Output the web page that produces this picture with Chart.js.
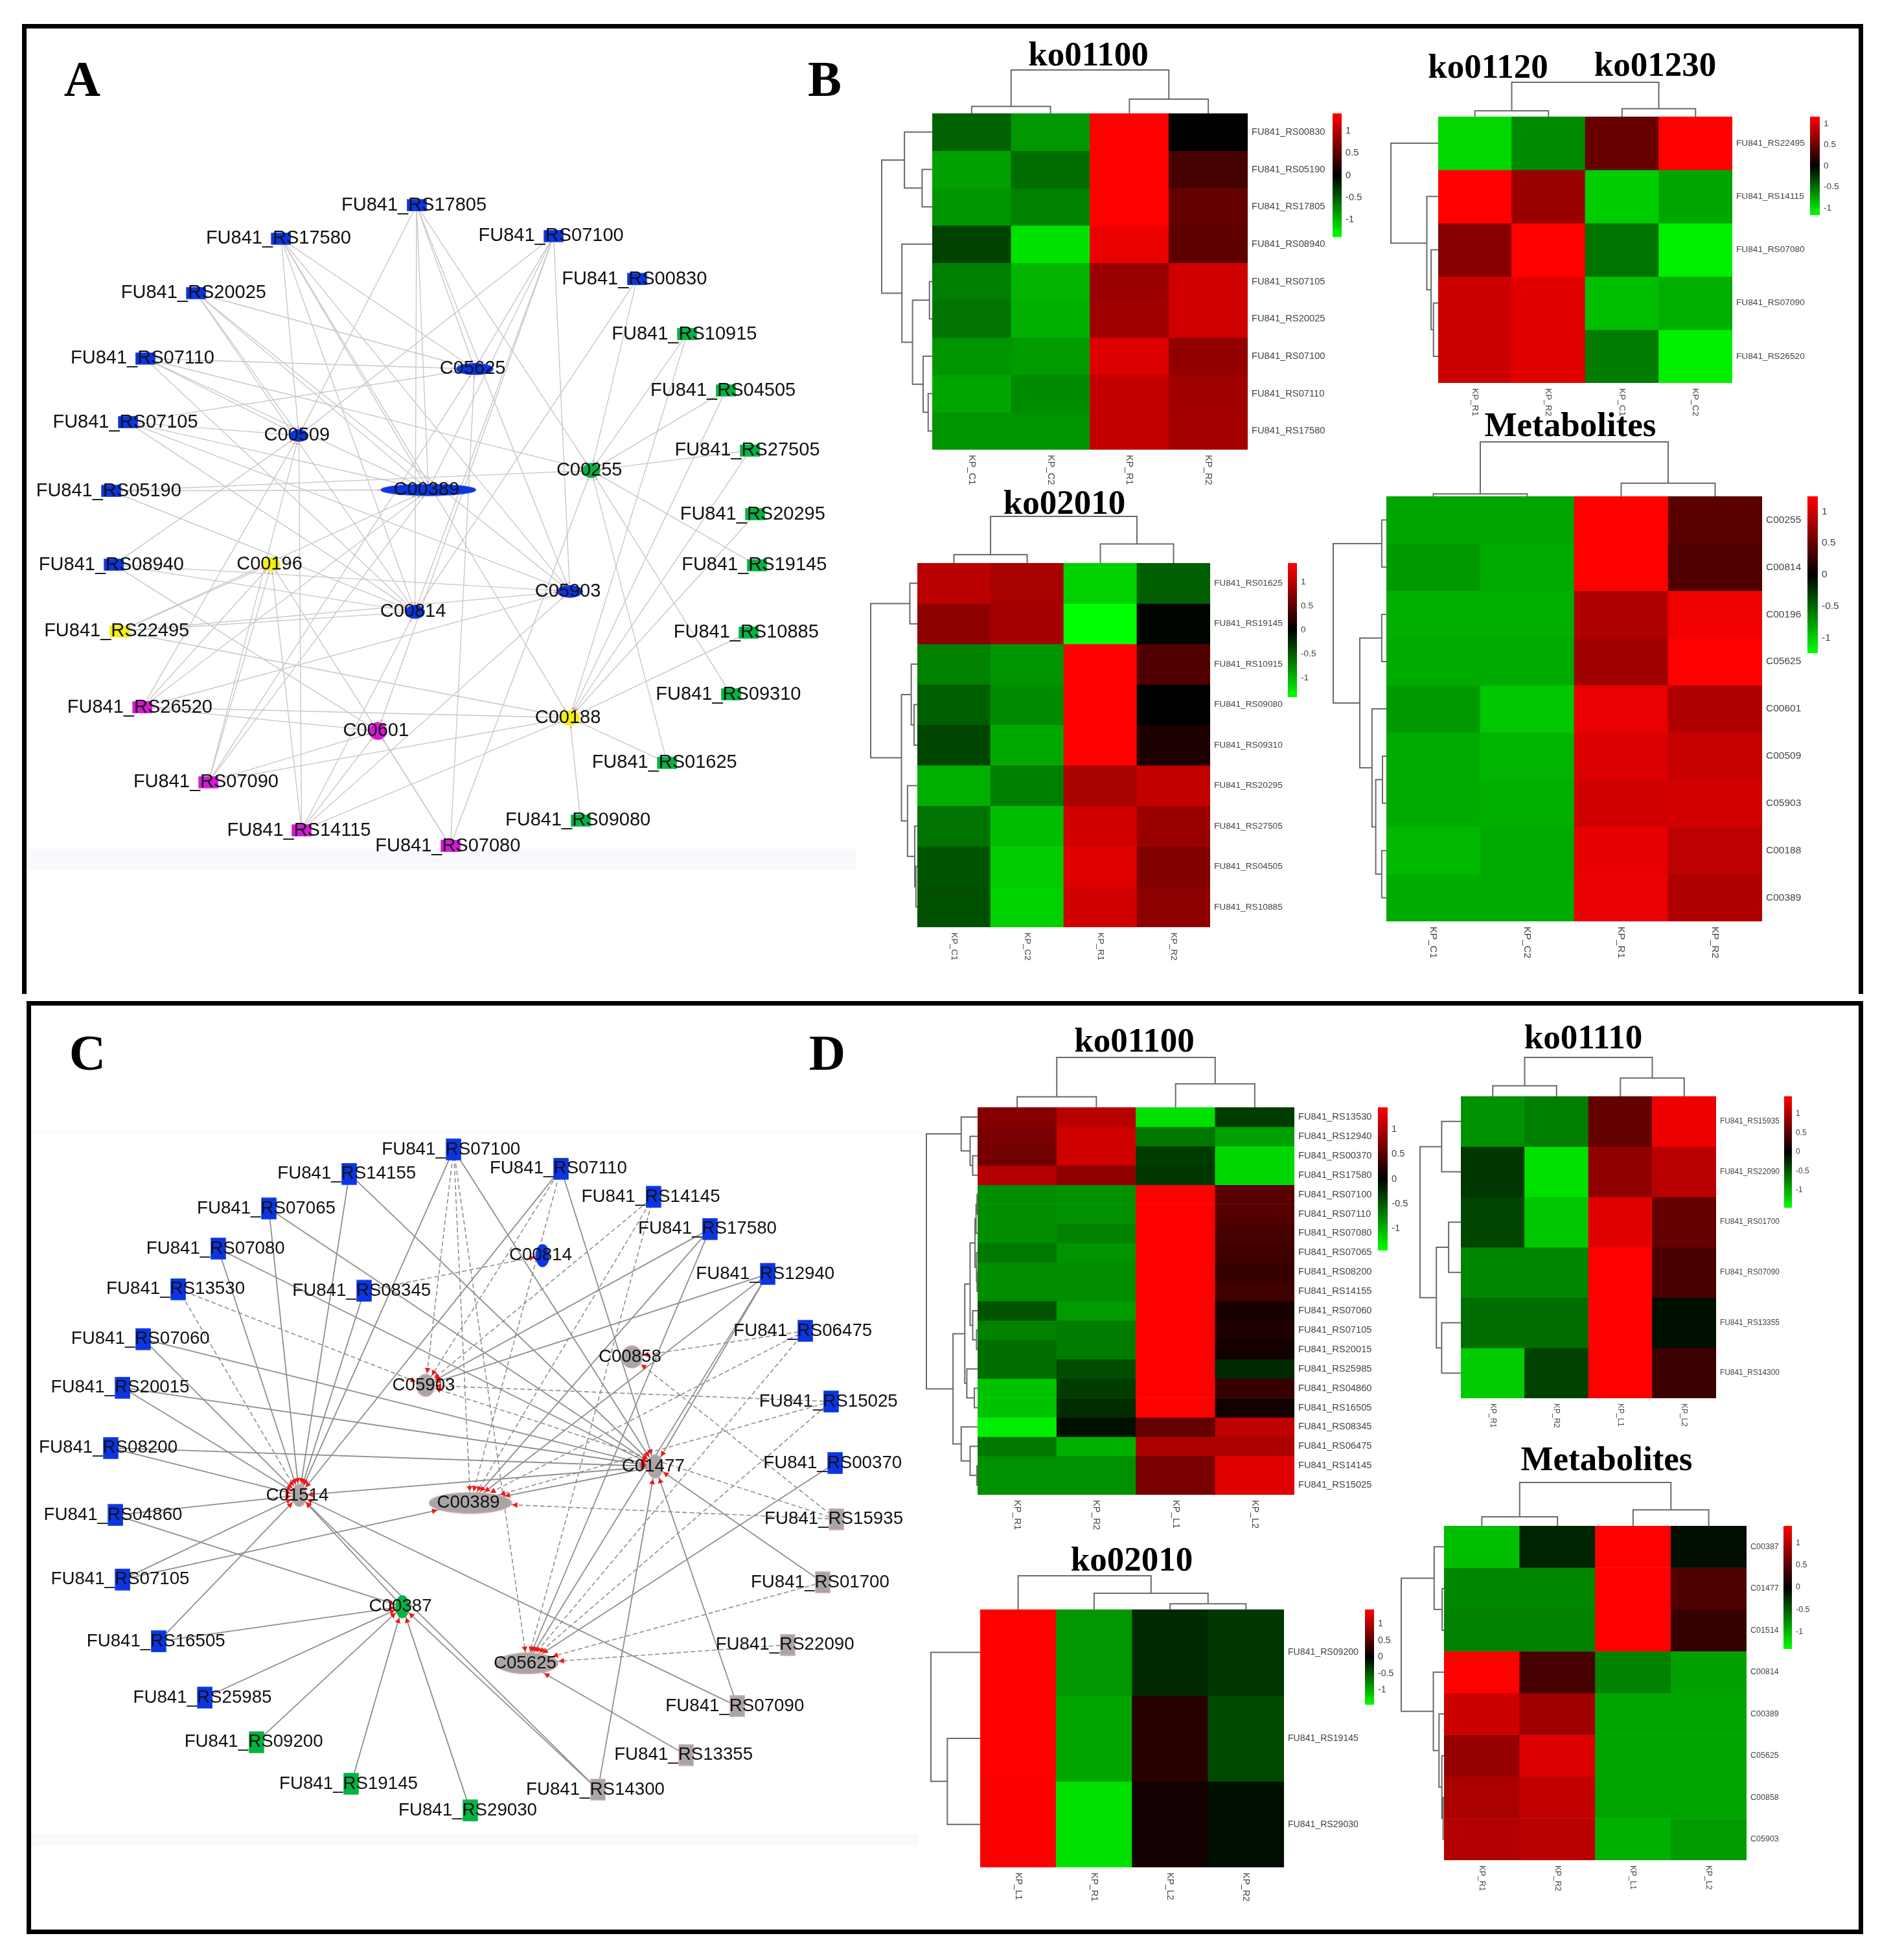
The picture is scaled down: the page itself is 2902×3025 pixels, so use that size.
<!DOCTYPE html>
<html lang="en">
<head>
  <meta charset="UTF-8" />
  <title>Gene and metabolite networks with heatmaps</title>
  <script src="https://cdn.jsdelivr.net/npm/chart.js"></script>
  <style>
    html, body { margin: 0; padding: 0; background: #fff; }
    #page { position: relative; width: 2902px; height: 3025px; overflow: hidden; background: #fff; }
    canvas { position: absolute; }
    .panel { position: absolute; box-sizing: border-box; border: 7px solid #000; }
    .band { position: absolute; background: #f8f9fd; }
    .title, .letter { position: absolute; font-family: 'Liberation Serif', serif; font-weight: bold; color: #000;
      transform: translate(-50%, -50%); white-space: nowrap; line-height: 1; }
    .title { font-size: 53px; }
    .letter { font-size: 78px; }
  </style>
</head>
<body>
<div id="page">
  <div class="panel" style="left:34px;top:37px;width:2842px;height:1497px;border-bottom:none"></div>
  <div class="panel" style="left:41px;top:1545px;width:2835px;height:1440px"></div>
  <div class="band" style="left:41px;top:1310px;width:1280px;height:33px"></div>
  <div class="band" style="left:48px;top:2830px;width:1370px;height:18px"></div>
  <div class="band" style="left:48px;top:1746px;width:1375px;height:2px"></div>

  <div class="letter" style="left:127px;top:122px">A</div>
  <div class="letter" style="left:1273px;top:122px">B</div>
  <div class="letter" style="left:135px;top:1625px">C</div>
  <div class="letter" style="left:1277px;top:1625px">D</div>

  <div class="title" style="left:1680px;top:83px">ko01100</div>
  <div class="title" style="left:2297px;top:102px">ko01120</div>
  <div class="title" style="left:2555px;top:99px">ko01230</div>
  <div class="title" style="left:2424px;top:655px">Metabolites</div>
  <div class="title" style="left:1643px;top:775px">ko02010</div>
  <div class="title" style="left:1751px;top:1605px">ko01100</div>
  <div class="title" style="left:2444px;top:1600px">ko01110</div>
  <div class="title" style="left:1747px;top:2406px">ko02010</div>
  <div class="title" style="left:2480px;top:2251px">Metabolites</div>
</div>

<script>
// ---- heatmap data (row z-scores) ----
const bCols1 = ['KP_C1', 'KP_C2', 'KP_R1', 'KP_R2'];
const bRows1 = ['FU841_RS00830', 'FU841_RS05190', 'FU841_RS17805', 'FU841_RS08940', 'FU841_RS07105', 'FU841_RS20025', 'FU841_RS07100', 'FU841_RS07110', 'FU841_RS17580'];
const bVals1 = [
  [-0.53, -0.83, 1.4, 0],
  [-0.88, -0.6, 1.4, 0.38],
  [-0.82, -0.71, 1.4, 0.55],
  [-0.36, -1.24, 1.29, 0.52],
  [-0.69, -0.99, 0.85, 1.15],
  [-0.63, -0.96, 0.88, 1.15],
  [-0.82, -0.85, 1.21, 0.8],
  [-0.91, -0.77, 1.07, 0.88],
  [-0.82, -0.82, 1.07, 0.9]
];
const bColTree1 = [[0, 1, 0.16], [2, 3, 0.33], 1];
const bRowTree1 = [[0, [1, 2, 0.2], 0.55], [3, [[4, 5, 0.055], [6, [7, 8, 0.08], 0.18], 0.39], 0.6], 1];

const bCols2 = ['KP_R1', 'KP_R2', 'KP_C1', 'KP_C2'];
const bRows2 = ['FU841_RS22495', 'FU841_RS14115', 'FU841_RS07080', 'FU841_RS07090', 'FU841_RS26520'];
const bVals2 = [
  [-0.99, -0.64, 0.48, 1.17],
  [1.17, 0.71, -0.94, -0.76],
  [0.62, 1.17, -0.53, -1.1],
  [0.94, 1.03, -0.87, -0.8],
  [0.94, 1.03, -0.57, -1.1]
];
const bColTree2 = [[0, 1, 0.17], [2, 3, 0.23], 1];
const bRowTree2 = [0, [1, [2, [3, 4, 0.1], 0.15], 0.24], 1];

const bCols3 = ['KP_C1', 'KP_C2', 'KP_R1', 'KP_R2'];
const bRows3 = ['FU841_RS01625', 'FU841_RS19145', 'FU841_RS10915', 'FU841_RS09080', 'FU841_RS09310', 'FU841_RS20295', 'FU841_RS27505', 'FU841_RS04505', 'FU841_RS10885'];
const bVals3 = [
  [1.02, 0.93, -1.15, -0.52],
  [0.77, 0.91, -1.4, -0.03],
  [-0.71, -0.82, 1.4, 0.44],
  [-0.52, -0.77, 1.4, 0],
  [-0.38, -0.93, 1.4, 0.16],
  [-0.96, -0.69, 0.93, 1.07],
  [-0.63, -1.04, 1.15, 0.85],
  [-0.47, -1.12, 1.23, 0.71],
  [-0.44, -1.15, 1.15, 0.77]
];
const bColTree3 = [[0, 1, 0.18], [2, 3, 0.41], 1];
const bRowTree3 = [[0, 1, 0.16], [[2, [3, 4, 0.07], 0.13], [5, [6, [7, 8, 0.03], 0.056], 0.21], 0.34], 1];

const bCols4 = ['KP_C1', 'KP_C2', 'KP_R1', 'KP_R2'];
const bRows4 = ['C00255', 'C00814', 'C00196', 'C05625', 'C00601', 'C00509', 'C05903', 'C00188', 'C00389'];
const bVals4 = [
  [-0.8, -0.8, 1.24, 0.44],
  [-0.75, -0.83, 1.24, 0.39],
  [-0.85, -0.85, 0.85, 1.17],
  [-0.83, -0.83, 0.78, 1.24],
  [-0.75, -0.97, 1.14, 0.85],
  [-0.83, -0.88, 1.07, 0.97],
  [-0.83, -0.85, 1.0, 1.02],
  [-0.9, -0.83, 1.12, 0.92],
  [-0.83, -0.83, 1.14, 0.85]
];
const bColTree4 = [[0, 1, 0.045], [2, 3, 0.24], 1];
const bRowTree4 = [[0, 1, 0.087], [[2, 3, 0.087], [4, [[5, 6, 0.073], [7, 8, 0.087], 0.2], 0.27], 0.5], 1];

const dCols1 = ['KP_R1', 'KP_R2', 'KP_L1', 'KP_L2'];
const dRows1 = ['FU841_RS13530', 'FU841_RS12940', 'FU841_RS00370', 'FU841_RS17580', 'FU841_RS07100', 'FU841_RS07110', 'FU841_RS07080', 'FU841_RS07065', 'FU841_RS08200', 'FU841_RS14155', 'FU841_RS07060', 'FU841_RS07105', 'FU841_RS20015', 'FU841_RS25985', 'FU841_RS04860', 'FU841_RS16505', 'FU841_RS08345', 'FU841_RS06475', 'FU841_RS14145', 'FU841_RS15025'];
const dVals1 = [
  [0.77, 1.05, -1.28, -0.34],
  [0.68, 1.17, -0.68, -0.91],
  [0.65, 1.17, -0.34, -1.22],
  [1.02, 0.82, -0.31, -1.22],
  [-0.8, -0.82, 1.45, 0.51],
  [-0.8, -0.82, 1.45, 0.48],
  [-0.8, -0.74, 1.45, 0.4],
  [-0.68, -0.85, 1.45, 0.37],
  [-0.8, -0.8, 1.45, 0.31],
  [-0.8, -0.8, 1.45, 0.37],
  [-0.48, -0.88, 1.45, 0.14],
  [-0.74, -0.71, 1.45, 0.17],
  [-0.63, -0.71, 1.45, 0.11],
  [-0.63, -0.43, 1.45, -0.23],
  [-1.11, -0.34, 1.45, 0.31],
  [-1.11, -0.26, 1.45, 0.11],
  [-1.36, -0.09, 0.57, 1.08],
  [-0.68, -1.0, 0.97, 0.97],
  [-0.82, -0.82, 0.68, 1.28],
  [-0.82, -0.82, 0.68, 1.28]
];
const dColTree1 = [[0, 1, 0.21], [2, 3, 0.47], 1];
const dRowTree1 = [[0, [1, [2, 3, 0.095], 0.146], 0.32],
  [[[[[[4, 5, 0.01], 6, 0.03], [7, [8, 9, 0.01], 0.02], 0.05], [10, [11, 12, 0.02], 0.095], 0.146], [13, [14, 15, 0.063], 0.21], 0.25],
    [16, [17, [18, 19, 0.013], 0.146], 0.32], 0.48], 1];

const dCols2 = ['KP_R1', 'KP_R2', 'KP_L1', 'KP_L2'];
const dRows2 = ['FU841_RS15935', 'FU841_RS22090', 'FU841_RS01700', 'FU841_RS07090', 'FU841_RS13355', 'FU841_RS14300'];
const dVals2 = [
  [-0.83, -0.72, 0.57, 1.37],
  [-0.31, -1.29, 0.83, 1.06],
  [-0.4, -1.14, 1.29, 0.57],
  [-0.77, -0.77, 1.46, 0.43],
  [-0.63, -0.63, 1.46, -0.09],
  [-1.17, -0.37, 1.46, 0.34]
];
const dColTree2 = [[0, 1, 0.27], [2, 3, 0.47], 1];
const dRowTree2 = [[0, 1, 0.47], [[2, 3, 0.3], [4, 5, 0.47], 0.6], 1];

const dCols3 = ['KP_L1', 'KP_R1', 'KP_L2', 'KP_R2'];
const dRows3 = ['FU841_RS09200', 'FU841_RS19145', 'FU841_RS29030'];
const dVals3 = [
  [1.44, -0.85, -0.23, -0.31],
  [1.44, -0.93, 0.23, -0.42],
  [1.41, -1.27, 0.11, -0.08]
];
const dColTree3 = [0, [1, [2, 3, 0.17], 0.48], 1];
const dRowTree3 = [0, [1, 2, 0.667], 1];

const dCols4 = ['KP_R1', 'KP_R2', 'KP_L1', 'KP_L2'];
const dRows4 = ['C00387', 'C01477', 'C01514', 'C00814', 'C00389', 'C05625', 'C00858', 'C05903'];
const dVals4 = [
  [-1.03, -0.19, 1.38, -0.08],
  [-0.73, -0.73, 1.38, 0.43],
  [-0.7, -0.7, 1.38, 0.3],
  [1.38, 0.38, -0.7, -0.87],
  [1.11, 0.87, -0.89, -0.89],
  [0.81, 1.19, -0.89, -0.89],
  [0.92, 1.05, -0.89, -0.89],
  [0.97, 1.0, -0.95, -0.84]
];
const dColTree4 = [[0, 1, 0.21], [2, 3, 0.37], 1];
const dRowTree4 = [[0, [1, 2, 0.044], 0.23], [3, [4, [5, [6, 7, 0.02], 0.05], 0.117], 0.25], 1];

const legendTicks = [1, 0.5, 0, -0.5, -1];

// ---- network data, in the layout units of each panel ----
const netAMets = [['C05625', 883, 642], ['C00509', 556, 762], ['C00389', 797, 860], ['C00255', 1100, 825], ['C00196', 505, 994], ['C05903', 1060, 1043], ['C00814', 772, 1080], ['C00188', 1060, 1271], ['C00601', 703, 1295]];
const netAGenes = [
  ['RS17805', 775, 347, 'blue'], ['RS17580', 523, 407, 'blue'], ['RS07100', 1030, 402, 'blue'], ['RS00830', 1185, 480, 'blue'], ['RS20025', 365, 505, 'blue'],
  ['RS07110', 270, 623, 'blue'], ['RS07105', 238, 738, 'blue'], ['RS05190', 207, 862, 'blue'], ['RS08940', 212, 995, 'blue'],
  ['RS10915', 1278, 579, 'green'], ['RS04505', 1350, 681, 'green'], ['RS27505', 1395, 789, 'green'], ['RS20295', 1405, 904, 'green'], ['RS19145', 1408, 996, 'green'],
  ['RS10885', 1393, 1117, 'green'], ['RS09310', 1360, 1229, 'green'], ['RS01625', 1241, 1352, 'green'], ['RS09080', 1080, 1456, 'green'],
  ['RS22495', 222, 1115, 'yellow'],
  ['RS26520', 265, 1252, 'magenta'], ['RS07090', 388, 1387, 'magenta'], ['RS14115', 561, 1474, 'magenta'], ['RS07080', 838, 1502, 'magenta']
];
const netALinks = [
  ['RS17805', 'C00509', 'C00814', 'C00389', 'C05625', 'C00255', 'C05903'],
  ['RS17580', 'C00509', 'C05625', 'C00389', 'C05903', 'C00814', 'C00188'],
  ['RS07100', 'C00509', 'C05625', 'C00389', 'C00814', 'C05903', 'C00601'],
  ['RS00830', 'C00255', 'C00814'],
  ['RS20025', 'C05625', 'C00509', 'C00389', 'C00814', 'C05903'],
  ['RS07110', 'C05625', 'C00509', 'C00389', 'C00255', 'C00814'],
  ['RS07105', 'C05625', 'C00509', 'C00389', 'C05903', 'C00814'],
  ['RS05190', 'C00389', 'C00255', 'C00814'],
  ['RS08940', 'C00509', 'C00814', 'C00601', 'C05903'],
  ['RS22495', 'C00196', 'C00389', 'C05903', 'C00814', 'C00188'],
  ['RS26520', 'C00196', 'C00509', 'C00389', 'C05903', 'C00601', 'C00188'],
  ['RS07090', 'C00196', 'C00509', 'C00389', 'C05625', 'C00601', 'C00188'],
  ['RS14115', 'C00196', 'C00509', 'C00814', 'C05903', 'C00601', 'C00188'],
  ['RS07080', 'C00196', 'C05625', 'C00601', 'C00255'],
  ['RS10915', 'C00255', 'C00188'],
  ['RS04505', 'C00255', 'C00188'],
  ['RS27505', 'C00255', 'C00188'],
  ['RS20295', 'C00188'],
  ['RS19145', 'C00255'],
  ['RS10885', 'C00188'],
  ['RS09310', 'C00255'],
  ['RS01625', 'C00255', 'C00188'],
  ['RS09080', 'C00188']
];

const netCMets = [['C00814', 911, 446], ['C00858', 1061, 621], ['C05903', 715, 670], ['C01477', 1100, 810], ['C01514', 503, 860], ['C00389', 790, 873], ['C00387', 676, 1052], ['C05625', 885, 1150]];
const netCGenes = [
  ['RS07100', 762, 263, 'blue'], ['RS14155', 587, 305, 'blue'], ['RS07110', 942, 296, 'blue'], ['RS07065', 452, 365, 'blue'], ['RS14145', 1097, 345, 'blue'],
  ['RS17580', 1192, 400, 'blue'], ['RS07080', 367, 434, 'blue'], ['RS12940', 1289, 478, 'blue'], ['RS13530', 300, 504, 'blue'], ['RS08345', 612, 507, 'blue'],
  ['RS07060', 241, 590, 'blue'], ['RS06475', 1352, 576, 'blue'], ['RS20015', 207, 674, 'blue'], ['RS15025', 1395, 698, 'blue'], ['RS08200', 187, 778, 'blue'],
  ['RS00370', 1402, 804, 'blue'], ['RS04860', 195, 894, 'blue'], ['RS07105', 207, 1005, 'blue'], ['RS16505', 267, 1112, 'blue'], ['RS25985', 345, 1209, 'blue'],
  ['RS15935', 1404, 901, 'grey'], ['RS01700', 1381, 1010, 'grey'], ['RS22090', 1322, 1118, 'grey'], ['RS07090', 1238, 1224, 'grey'], ['RS13355', 1152, 1308, 'grey'], ['RS14300', 1004, 1368, 'grey'],
  ['RS09200', 431, 1286, 'green'], ['RS19145', 590, 1358, 'green'], ['RS29030', 790, 1404, 'green']
];
const netCSolid = [
  ['RS07100', 'C01514', 'C01477'], ['RS14155', 'C01514', 'C01477'], ['RS07110', 'C01514', 'C01477'], ['RS07065', 'C01514', 'C01477'],
  ['RS17580', 'C05903', 'C00389'], ['RS07080', 'C01514', 'C01477'], ['RS12940', 'C05903', 'C00389', 'C01477'],
  ['RS07060', 'C01514', 'C01477'], ['RS20015', 'C01514', 'C01477'], ['RS08200', 'C01514', 'C01477'], ['RS00370', 'C05625'],
  ['RS04860', 'C01514', 'C00387'], ['RS07105', 'C01514', 'C00389'], ['RS01700', 'C01477'], ['RS16505', 'C01514', 'C00387'],
  ['RS25985', 'C00387'], ['RS07090', 'C01514', 'C01477'], ['RS09200', 'C00387'], ['RS13355', 'C05625'], ['RS19145', 'C00387'],
  ['RS14300', 'C00387', 'C01477', 'C01514'], ['RS29030', 'C00387'],
  ['C01477', 'C01514', 'C00389'], ['C00387', 'C01514'], ['RS08345', 'C01514'], ['RS17580', 'C05625'], ['RS12940', 'C05625']
];
const netCDashed = [
  ['RS07100', 'C05903', 'C00389', 'C05625'], ['RS07110', 'C05903', 'C00389'], ['RS14145', 'C05903', 'C00389', 'C05625'],
  ['RS13530', 'C01514', 'C05903'], ['RS08345', 'C00814'], ['RS06475', 'C00858', 'C05625', 'C00389'],
  ['RS15025', 'C05903', 'C00389', 'C05625'], ['RS15935', 'C05903', 'C00858', 'C00389'], ['RS01700', 'C05625'], ['RS22090', 'C05625']
];

// ---- styling ----
const nodeColors = {
  blue: ['#0a35e2', '#0a35e2'], green: ['#05b345', '#05b345'], yellow: ['#f5ee12', '#f5ee12'],
  magenta: ['#d418d6', '#d418d6'], grey: ['#a9a5a5', '#d0a8a8']
};
const netAMetStyle = {
  C05625: ['blue', 56, 17], C00509: ['blue', 27, 18], C00389: ['blue', 146, 17], C00255: ['green', 26, 22], C00196: ['yellow', 26, 20],
  C05903: ['blue', 38, 18], C00814: ['blue', 28, 20], C00188: ['yellow', 30, 22], C00601: ['magenta', 26, 26]
};
const netCMetStyle = {
  C00814: ['blue', 20, 34], C00858: ['grey', 32, 34], C05903: ['grey', 28, 34], C01477: ['grey', 24, 36], C01514: ['grey', 22, 34],
  C00389: ['grey', 127, 32], C00387: ['green', 20, 34], C05625: ['grey', 96, 32]
};

function zColor(v, vmax) {
  const k = Math.min(1, Math.abs(v) / vmax);
  const c = Math.round(k * 255);
  return v >= 0 ? `rgb(${c},0,0)` : `rgb(0,${c},0)`;
}

// walks a [left, right, height] tree, returns where the node sits
function drawTree(ctx, node, drawLink) {
  if (!Array.isArray(node)) return { pos: node + 0.5, h: 0 };
  const a = drawTree(ctx, node[0], drawLink);
  const b = drawTree(ctx, node[1], drawLink);
  drawLink(a, b, node[2]);
  return { pos: (a.pos + b.pos) / 2, h: node[2] };
}

function heatmap(cfg) {
  const padL = 140, padT = 130, padB = 90, labelW = 150;
  const w = cfg.right - cfg.left, h = cfg.bottom - cfg.top;
  const padR = Math.max(220, cfg.legend[1] - cfg.right + 70);

  const canvas = document.createElement('canvas');
  canvas.width = w + padL + padR;
  canvas.height = h + padT + padB;
  canvas.style.left = (cfg.left - padL) + 'px';
  canvas.style.top = (cfg.top - padT) + 'px';
  document.getElementById('page').appendChild(canvas);
  const offX = cfg.left - padL, offY = cfg.top - padT;

  const decor = {
    id: 'decor',
    afterDraw(chart) {
      const ctx = chart.ctx, area = chart.chartArea;
      const nRows = cfg.rows.length, nCols = cfg.cols.length;
      const rowH = area.height / nRows;
      const xScale = chart.scales.x;

      ctx.save();
      ctx.strokeStyle = '#6a6a6a';
      ctx.lineWidth = 2;
      // top dendrogram
      ctx.beginPath();
      drawTree(ctx, cfg.colTree, (a, b, ht) => {
        const px = p => xScale.getPixelForValue(p - 0.5);
        const y = area.top - ht * cfg.colLen;
        ctx.moveTo(px(a.pos), area.top - a.h * cfg.colLen);
        ctx.lineTo(px(a.pos), y);
        ctx.lineTo(px(b.pos), y);
        ctx.lineTo(px(b.pos), area.top - b.h * cfg.colLen);
      });
      // left dendrogram
      drawTree(ctx, cfg.rowTree, (a, b, ht) => {
        const x = area.left - ht * cfg.rowLen;
        ctx.moveTo(area.left - a.h * cfg.rowLen, area.top + a.pos * rowH);
        ctx.lineTo(x, area.top + a.pos * rowH);
        ctx.lineTo(x, area.top + b.pos * rowH);
        ctx.lineTo(area.left - b.h * cfg.rowLen, area.top + b.pos * rowH);
      });
      ctx.stroke();

      // column names, reading downwards
      ctx.fillStyle = '#444';
      ctx.font = cfg.font + 'px "Liberation Sans"';
      ctx.textAlign = 'left';
      ctx.textBaseline = 'middle';
      for (let i = 0; i < nCols; i++) {
        ctx.save();
        ctx.translate(xScale.getPixelForValue(i), area.bottom + 8);
        ctx.rotate(Math.PI / 2);
        ctx.fillText(cfg.cols[i], 0, 0);
        ctx.restore();
      }

      // colour key
      const lx0 = cfg.legend[0] - offX, lx1 = cfg.legend[1] - offX;
      const ly0 = area.top, ly1 = cfg.legend[2] - offY;
      const grad = ctx.createLinearGradient(0, ly0, 0, ly1);
      grad.addColorStop(0, '#ff0000');
      grad.addColorStop(0.5, '#000000');
      grad.addColorStop(1, '#00ff00');
      ctx.fillStyle = grad;
      ctx.fillRect(lx0, ly0, lx1 - lx0, ly1 - ly0);
      ctx.fillStyle = '#444';
      legendTicks.forEach(v => {
        const y = ly0 + (cfg.vmax - v) / (2 * cfg.vmax) * (ly1 - ly0);
        ctx.fillText(String(v), lx1 + 6, y);
      });
      ctx.restore();
    }
  };

  new Chart(canvas.getContext('2d'), {
    type: 'bar',
    plugins: [decor],
    data: {
      labels: cfg.cols,
      datasets: cfg.rows.map((name, r) => ({
        label: name,
        data: cfg.cols.map(() => 1),
        backgroundColor: cfg.vals[r].map(v => zColor(v, cfg.vmax)),
        borderWidth: 0,
        barPercentage: 1,
        categoryPercentage: 1
      }))
    },
    options: {
      responsive: false,
      animation: false,
      devicePixelRatio: 1,
      events: [],
      layout: { padding: { left: padL, top: padT, bottom: padB, right: padR - labelW } },
      plugins: { legend: { display: false }, title: { display: false }, tooltip: { enabled: false } },
      scales: {
        x: {
          stacked: true,
          grid: { display: false },
          border: { display: false },
          ticks: { display: false },
          afterFit(s) { s.height = 0; }
        },
        y: { stacked: true, reverse: true, min: 0, max: cfg.rows.length, display: false },
        yLabels: {
          type: 'category',
          position: 'right',
          labels: cfg.rows,
          offset: true,
          grid: { display: false, drawTicks: false },
          border: { display: false },
          ticks: { autoSkip: false, color: '#444', padding: 6, font: { family: 'Liberation Sans', size: cfg.font } },
          afterFit(s) { s.width = labelW; }
        }
      }
    }
  });
}

heatmap({ cols: bCols1, rows: bRows1, vals: bVals1, colTree: bColTree1, rowTree: bRowTree1, vmax: 1.4, left: 1439, right: 1926, top: 175, bottom: 694, colLen: 67, rowLen: 78, legend: [2057, 2071, 366], font: 14.7 });
heatmap({ cols: bCols2, rows: bRows2, vals: bVals2, colTree: bColTree2, rowTree: bRowTree2, vmax: 1.17, left: 2220, right: 2674, top: 180, bottom: 591, colLen: 53, rowLen: 73, legend: [2794, 2809, 332], font: 13.7 });
heatmap({ cols: bCols3, rows: bRows3, vals: bVals3, colTree: bColTree3, rowTree: bRowTree3, vmax: 1.4, left: 1416, right: 1868, top: 869, bottom: 1431, colLen: 72, rowLen: 72, legend: [1988, 2002, 1076], font: 13.7 });
heatmap({ cols: bCols4, rows: bRows4, vals: bVals4, colTree: bColTree4, rowTree: bRowTree4, vmax: 1.24, left: 2140, right: 2720, top: 766, bottom: 1422, colLen: 84, rowLen: 82, legend: [2790, 2806, 1008], font: 15.5 });
heatmap({ cols: dCols1, rows: dRows1, vals: dVals1, colTree: dColTree1, rowTree: dRowTree1, vmax: 1.45, left: 1509, right: 1998, top: 1709, bottom: 2307, colLen: 77, rowLen: 79, legend: [2127, 2142, 1930], font: 14.7 });
heatmap({ cols: dCols2, rows: dRows2, vals: dVals2, colTree: dColTree2, rowTree: dRowTree2, vmax: 1.46, left: 2255, right: 2649, top: 1692, bottom: 2158, colLen: 60, rowLen: 63, legend: [2754, 2766, 1864], font: 11.9 });
heatmap({ cols: dCols3, rows: dRows3, vals: dVals3, colTree: dColTree3, rowTree: dRowTree3, vmax: 1.44, left: 1513, right: 1982, top: 2484, bottom: 2882, colLen: 52, rowLen: 76, legend: [2107, 2121, 2631], font: 14.1 });
heatmap({ cols: dCols4, rows: dRows4, vals: dVals4, colTree: dColTree4, rowTree: dRowTree4, vmax: 1.38, left: 2229, right: 2696, top: 2355, bottom: 2871, colLen: 67, rowLen: 66, legend: [2753, 2766, 2545], font: 12.5 });

// ---- networks ----
function nodeImage(shape, w, h, fill, stroke) {
  const c = document.createElement('canvas');
  c.width = w + 2;
  c.height = h + 2;
  const g = c.getContext('2d');
  g.fillStyle = fill;
  g.strokeStyle = stroke;
  g.lineWidth = 1.5;
  g.beginPath();
  if (shape === 'ellipse') g.ellipse(c.width / 2, c.height / 2, w / 2, h / 2, 0, 0, Math.PI * 2);
  else g.rect(1, 1, w, h);
  g.fill();
  g.stroke();
  return c;
}

function network(cfg) {
  const canvas = document.createElement('canvas');
  canvas.width = cfg.box[2];
  canvas.height = cfg.box[3];
  canvas.style.left = cfg.box[0] + 'px';
  canvas.style.top = cfg.box[1] + 'px';
  document.getElementById('page').appendChild(canvas);

  const pos = {};
  cfg.mets.concat(cfg.genes).forEach(n => { pos[n[0]] = { x: n[1], y: n[2] }; });

  const edgeSets = [];
  const targets = [];
  cfg.groups.forEach(group => {
    group.links.forEach(link => {
      link.slice(1).forEach(t => {
        edgeSets.push({
          type: 'line',
          data: [pos[link[0]], pos[t]],
          showLine: true,
          pointRadius: 0,
          borderColor: group.color,
          borderWidth: group.width,
          borderDash: group.dash,
          order: 3
        });
        targets.push([link[0], t]);
      });
    });
  });

  const points = cfg.mets.map(m => pos[m[0]]).concat(cfg.genes.map(g => pos[g[0]]));
  const shapes = cfg.mets.map(m => {
    const st = cfg.metStyle[m[0]];
    return nodeImage('ellipse', st[1], st[2], nodeColors[st[0]][0], nodeColors[st[0]][1]);
  }).concat(cfg.genes.map(g => nodeImage('rect', cfg.geneSize[0], cfg.geneSize[1], nodeColors[g[3]][0], nodeColors[g[3]][1])));

  const labels = {
    id: 'nodeLabels',
    afterDatasetsDraw(chart) {
      const ctx = chart.ctx, sx = chart.scales.x, sy = chart.scales.y;
      ctx.save();
      // arrow heads on the metabolite end of each edge
      ctx.fillStyle = cfg.arrowColor;
      targets.forEach(([from, to]) => {
        const x0 = sx.getPixelForValue(pos[from].x), y0 = sy.getPixelForValue(pos[from].y);
        const x1 = sx.getPixelForValue(pos[to].x), y1 = sy.getPixelForValue(pos[to].y);
        const st = cfg.metStyle[to];
        const dx = x0 - x1, dy = y0 - y1, len = Math.hypot(dx, dy);
        const ux = dx / len, uy = dy / len;
        const r = 1 / Math.hypot(ux / (st[1] / 2 + 2), uy / (st[2] / 2 + 2));
        const tx = x1 + ux * r, ty = y1 + uy * r, s = cfg.arrow;
        ctx.beginPath();
        ctx.moveTo(tx, ty);
        ctx.lineTo(tx + ux * s - uy * s * 0.55, ty + uy * s + ux * s * 0.55);
        ctx.lineTo(tx + ux * s + uy * s * 0.55, ty + uy * s - ux * s * 0.55);
        ctx.closePath();
        ctx.fill();
      });
      // text sits a little left of the node centre
      ctx.fillStyle = '#111';
      ctx.font = cfg.font + 'px "Liberation Sans"';
      ctx.textAlign = 'center';
      ctx.textBaseline = 'middle';
      cfg.mets.forEach(m => ctx.fillText(m[0], sx.getPixelForValue(m[1]) - 3, sy.getPixelForValue(m[2])));
      cfg.genes.forEach(g => ctx.fillText('FU841_' + g[0], sx.getPixelForValue(g[1]) - 4, sy.getPixelForValue(g[2])));
      ctx.restore();
    }
  };

  new Chart(canvas.getContext('2d'), {
    type: 'scatter',
    plugins: [labels],
    data: {
      datasets: edgeSets.concat([{
        data: points,
        pointStyle: shapes,
        pointRadius: 10,
        showLine: false,
        order: 1
      }])
    },
    options: {
      responsive: false,
      animation: false,
      devicePixelRatio: 1,
      events: [],
      layout: { padding: 0 },
      plugins: { legend: { display: false }, title: { display: false }, tooltip: { enabled: false } },
      scales: {
        x: { type: 'linear', min: 0, max: 1568, display: false },
        y: { type: 'linear', min: 0, max: 1568, reverse: true, display: false }
      }
    }
  });
}

network({
  box: [-11, 9, 1323, 1364], mets: netAMets, genes: netAGenes, metStyle: netAMetStyle, geneSize: [29, 17], font: 29, arrow: 3, arrowColor: '#f08080',
  groups: [{ links: netALinks, color: '#c8c8c8', width: 1.4, dash: [] }]
});
network({
  box: [-12, 1528, 1465, 1424], mets: netCMets, genes: netCGenes, metStyle: netCMetStyle, geneSize: [22, 32], font: 27.7, arrow: 8, arrowColor: '#f01818',
  groups: [
    { links: netCSolid, color: '#8f8f8f', width: 1.8, dash: [] },
    { links: netCDashed, color: '#8f8f8f', width: 1.6, dash: [7, 4] }
  ]
});
</script>
</body>
</html>
